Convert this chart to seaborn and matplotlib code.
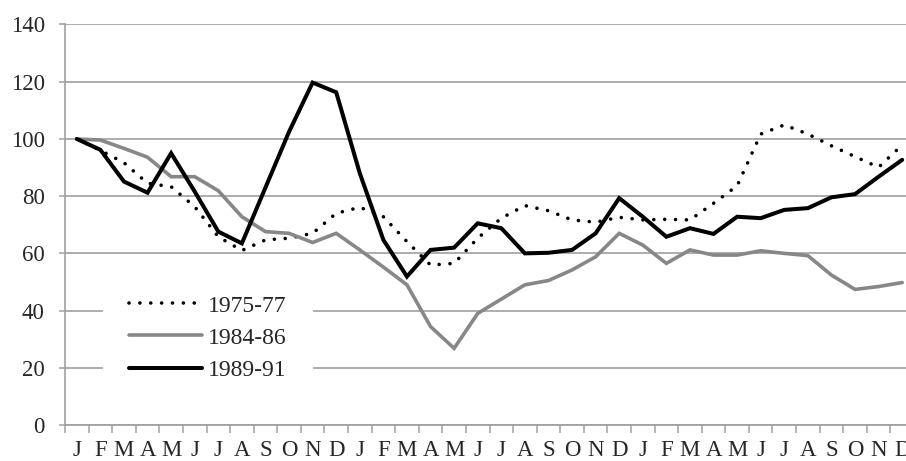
import matplotlib
matplotlib.use("Agg")
import matplotlib.pyplot as plt
import seaborn as sns
import pandas as pd
import numpy as np

months = ["J", "F", "M", "A", "M", "J", "J", "A", "S", "O", "N", "D"] * 3
series_names = ["1975-77", "1984-86", "1989-91"]

s1975 = [100, 96, 91.7, 84.5, 83.3, 76.3, 65.8, 61, 64.7, 65.3, 67, 74,
         76.1, 72.8, 64.1, 55.9, 56.5, 65.3, 72.3, 76.7, 74.9, 71.7, 70.9, 72.6,
         71.7, 71.9, 71.7, 77.5, 83.6, 101.7, 104.9, 101.7, 97.6, 93.8, 90.1, 97.9]
s1984 = [100, 99.6, 96.7, 93.6, 86.8, 86.8, 81.9, 72.8, 67.6, 67, 63.8, 67,
         61.2, 55.2, 49, 34.4, 26.8, 39, 44, 49, 50.5, 54.2, 58.8, 67,
         62.9, 56.5, 61.2, 59.4, 59.4, 60.9, 60, 59.2, 52.4, 47.4, 48.4, 49.8]
s1989 = [100, 96.2, 85.1, 81.2, 95, 81.6, 67.6, 63.5, 83, 102.5, 119.7, 116.3,
         88, 64.7, 51.9, 61.2, 62, 70.5, 68.8, 60, 60.2, 61.2, 67, 79.3,
         72.8, 65.8, 68.8, 66.8, 72.8, 72.3, 75.2, 75.8, 79.6, 80.7, 86.8, 92.7]

y_ticks = [0, 20, 40, 60, 80, 100, 120, 140]

sns.set_theme(style="white")
plt.rcParams["font.family"] = ["Liberation Serif", "DejaVu Serif"]

idx = np.arange(len(months))
df = pd.DataFrame({
    "idx": np.concatenate([idx, idx, idx]),
    "value": s1975 + s1984 + s1989,
    "series": [series_names[0]] * len(idx) + [series_names[1]] * len(idx) + [series_names[2]] * len(idx),
})

fig = plt.figure(figsize=(9.06, 4.61), dpi=100)
ax = fig.add_axes([65 / 906, 36 / 461, 849 / 906, 400.5 / 461])

styles = {
    "1975-77": dict(color="black", lw=2.6),
    "1984-86": dict(color="#878787", lw=2.6),
    "1989-91": dict(color="black", lw=2.9),
}
handles = []
for name in series_names:
    sub = df[df["series"] == name]
    sns.lineplot(data=sub, x="idx", y="value", ax=ax, label=name,
                 color=styles[name]["color"], linewidth=styles[name]["lw"],
                 legend=False, zorder=3)
    ln = ax.lines[-1]
    if name == "1975-77":
        ln.set_dashes((0.01, 3.0))
        ln.set_dash_capstyle("round")
    ln.set_solid_capstyle("round")
    ln.set_solid_joinstyle("miter")
    handles.append(ln)

ax.set_xlim(-0.5, len(months) - 0.5)
ax.set_ylim(0, 140)
ax.set_yticks(y_ticks)
ax.set_yticklabels([str(v) for v in y_ticks])
ax.yaxis.grid(True, color="#a0a0a0", linewidth=1.2)
ax.xaxis.grid(False)
ax.set_axisbelow(True)

# category axis: tick marks at boundaries, labels at centres
ax.set_xticks(np.arange(-0.5, len(months), 1.0))
ax.set_xticklabels([])
ax.set_xticks(idx, minor=True)
ax.set_xticklabels(months, minor=True)
ax.tick_params(axis="x", which="major", direction="out", length=5.5, width=1.1,
               color="#a0a0a0", bottom=True)
ax.tick_params(axis="x", which="minor", length=0, pad=11, labelsize=16.5)
ax.tick_params(axis="y", which="major", direction="out", length=4.5, width=1.1,
               color="#a0a0a0", left=True, pad=10, labelsize=16.5)

for s in ["top", "right"]:
    ax.spines[s].set_visible(False)
for s in ["left", "bottom"]:
    ax.spines[s].set_color("#a0a0a0")
    ax.spines[s].set_linewidth(1.2)

ax.set_xlabel("")
ax.set_ylabel("")

leg = ax.legend(handles=handles, labels=series_names, loc="center left",
                bbox_to_anchor=(38 / 849, (425 - 338) / 400.5), borderaxespad=0,
                frameon=True, fontsize=17, handlelength=3.1, handletextpad=0.25,
                labelspacing=0.45, borderpad=1.1)
leg.get_frame().set_facecolor("white")
leg.get_frame().set_edgecolor("none")
leg.get_frame().set_alpha(1)
leg.set_zorder(5)
for h in leg.legend_handles:
    h.set_dash_capstyle("round")
    h.set_solid_capstyle("round")

fig.savefig("out.png", dpi=100)
